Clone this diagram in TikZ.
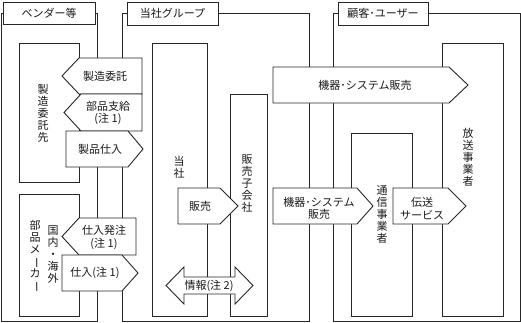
\documentclass[tikz,border=0pt]{standalone}
\usepackage{fontspec}
\setmainfont{Noto Sans CJK JP}
\newcommand{\chouon}{\rotatebox[origin=c]{-90}{ー}}
\begin{document}
\begin{tikzpicture}[x=1pt,y=-1pt,line join=miter,
  ln/.style={draw=black!85,line width=0.9pt},
  shp/.style={ln,fill=white},
  txt/.style={font=\fontsize{11}{12.5}\selectfont,inner sep=0pt,align=center,text=black!90},
  vtxt/.style={font=\fontsize{11}{12}\selectfont,inner sep=0pt,align=center,text=black!90}]
\useasboundingbox (0,0) rectangle (521,322);
% group frames
\draw[ln] (1,13) rectangle (97,321);
\draw[ln] (122,13) rectangle (309,321);
\draw[ln] (333,13) rectangle (520,321);
% group labels
\draw[shp] (3,2) rectangle (95,24);
\node[txt] (lv) at (49,13) {ベンダー等};
\draw[shp] (127,2) rectangle (218,25);
\node[txt] (lg) at (172.5,13.5) {当社グループ};
\draw[shp] (338,2) rectangle (428,25);
\node[txt] (lc) at (383,13.5) {顧客･ユーザー};
% inner boxes
\draw[shp] (19,43) rectangle (79,182);
\node[vtxt] (seizo) at (43,113) {製\\造\\委\\託\\先};
\draw[shp] (19,194) rectangle (79,316);
\node[vtxt] (buhin) at (35,256) {部\\品\\メ\\\chouon\\カ\\\chouon};
\node[vtxt] (kokunai) at (53,255) {国\\内\\・\\海\\外};
\draw[shp] (152,43) rectangle (207,316);
\node[vtxt] (tosha) at (179,167) {当\\社};
\draw[shp] (230,94) rectangle (267,316);
\node[vtxt] (hanbai) at (247,184) {販\\売\\子\\会\\社};
\draw[shp] (351,133) rectangle (412,316);
\node[vtxt] (tsushin) at (382,214) {通\\信\\事\\業\\者};
\draw[shp] (442,43) rectangle (503,316);
\node[vtxt] (hoso) at (468,157) {放\\送\\事\\業\\者};
% arrows
\draw[shp] (62,76) -- (79,58) -- (142,58) -- (142,94) -- (79,94) -- cycle;
\node[txt] (a1) at (105,76) {製造委託};
\draw[shp] (64,112.5) -- (81,94) -- (142,94) -- (142,131) -- (81,131) -- cycle;
\node[txt] (a2) at (108,113) {部品支給\\(注 1)};
\draw[shp] (66,131) -- (128,131) -- (143,149) -- (128,167) -- (66,167) -- cycle;
\node[txt] (a3) at (100,149) {製品仕入};
\draw[shp] (62,236.5) -- (79,218) -- (136,218) -- (136,255) -- (79,255) -- cycle;
\node[txt] (a4) at (104,237.5) {仕入発注\\(注 1)};
\draw[shp] (62,255) -- (122,255) -- (138,273) -- (122,291) -- (62,291) -- cycle;
\node[txt] (a5) at (95,273) {仕入(注 1)};
\draw[shp] (178,188) -- (220,188) -- (238,206) -- (220,224) -- (178,224) -- cycle;
\node[txt] (a6) at (200,206) {販売};
\draw[shp] (166,285.5) -- (184,267) -- (184,277) -- (235,277) -- (235,267) -- (253,285.5)
  -- (235,304) -- (235,294) -- (184,294) -- (184,304) -- cycle;
\node[txt] (a7) at (209,286) {情報(注 2)};
\draw[shp] (273,67) -- (449,67) -- (468,85) -- (449,103) -- (273,103) -- cycle;
\node[txt] (a8) at (365,85) {機器･システム販売};
\draw[shp] (273,188) -- (357,188) -- (373,206) -- (357,224) -- (273,224) -- cycle;
\node[txt] (a9) at (319,208.5) {機器･システム\\販売};
\draw[shp] (393,188) -- (448,188) -- (466,206) -- (448,224) -- (393,224) -- cycle;
\node[txt] (a10) at (422,208.5) {伝送\\サービス};
\end{tikzpicture}
\end{document}
